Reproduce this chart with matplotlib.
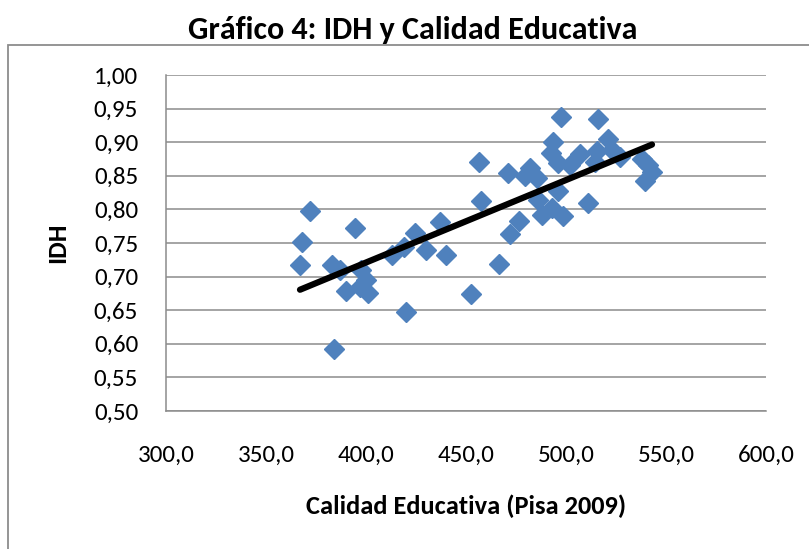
import matplotlib
matplotlib.use("Agg")
import matplotlib.pyplot as plt
import numpy as np
from matplotlib.ticker import FuncFormatter, MultipleLocator
from matplotlib.patches import Rectangle

plt.rcParams['font.family'] = ['Carlito', 'Lato', 'DejaVu Sans']

# Calidad educativa (PISA 2009) vs IDH
pisa = [368, 367, 372, 383, 387, 384, 390, 394.5, 397.5, 400, 397, 401,
        413, 419, 420, 424.5, 430, 437, 440, 452.5, 456.5, 457.5, 466.5,
        471, 472, 476.5, 479.5, 482, 485.5, 486, 488, 493, 498.5, 496,
        493.5, 492.5, 497.5, 496, 502, 507, 511, 514.5, 515.5, 516, 521,
        523, 527, 538, 541, 543, 539.5]
idh = [0.751, 0.717, 0.798, 0.717, 0.710, 0.593, 0.678, 0.772, 0.710, 0.695,
       0.685, 0.675, 0.732, 0.744, 0.648, 0.765, 0.740, 0.781, 0.732, 0.674,
       0.870, 0.812, 0.719, 0.854, 0.764, 0.782, 0.849, 0.861, 0.847, 0.814,
       0.791, 0.802, 0.790, 0.827, 0.901, 0.884, 0.937, 0.869, 0.866, 0.883,
       0.810, 0.870, 0.887, 0.935, 0.905, 0.889, 0.878, 0.875, 0.866, 0.856,
       0.842]

x = np.array(pisa)
y = np.array(idh)

W, H = 809, 549
fig = plt.figure(figsize=(W / 100, H / 100), dpi=100)

# outer chart border (cut off at right / bottom)
fig.patches.append(Rectangle((8 / W, -0.1), 1.2, 1 - 45 / H + 0.1,
                             transform=fig.transFigure, fill=False,
                             edgecolor='#8c8c8c', linewidth=1.3))

ax = fig.add_axes([166 / W, 1 - 411 / H, 600 / W, 336 / H])

ax.plot(x, y, linestyle='none', marker='D', markersize=10,
        color='#4F81BD', markeredgecolor='#4F81BD', zorder=3)

# linear trend line
m, b = np.polyfit(x, y, 1)
xs = np.array([x.min(), x.max()])
ax.plot(xs, m * xs + b, color='black', linewidth=4.5,
        solid_capstyle='round', zorder=4)

ax.set_xlim(300, 600)
ax.set_ylim(0.5, 1.0)
ax.xaxis.set_major_locator(MultipleLocator(50))
ax.yaxis.set_major_locator(MultipleLocator(0.05))
ax.xaxis.set_major_formatter(FuncFormatter(lambda v, p: f"{v:.1f}".replace('.', ',')))
ax.yaxis.set_major_formatter(FuncFormatter(lambda v, p: f"{v:.2f}".replace('.', ',')))

ax.grid(axis='y', color='#8c8c8c', linewidth=1.1)
ax.set_axisbelow(True)
for s in ['top', 'right']:
    ax.spines[s].set_visible(False)
for s in ['left', 'bottom']:
    ax.spines[s].set_color('#8c8c8c')
    ax.spines[s].set_linewidth(1.1)
ax.tick_params(length=0, labelsize=18)
ax.tick_params(axis='y', pad=20)
ax.tick_params(axis='x', pad=24)

ax.set_xlabel("Calidad Educativa (Pisa 2009)", fontsize=19, fontweight='bold', va='center')
ax.xaxis.set_label_coords(0.5, (411 - 506) / 336)
ax.set_ylabel("IDH", fontsize=19, fontweight='bold', va='center')
ax.yaxis.set_label_coords((58 - 166) / 600, 0.5)

fig.text(413 / W, 1 - 30 / H, "Gráfico 4: IDH y Calidad Educativa",
         ha='center', va='center', fontsize=23, fontweight='bold')

fig.savefig("out.png", dpi=100)
